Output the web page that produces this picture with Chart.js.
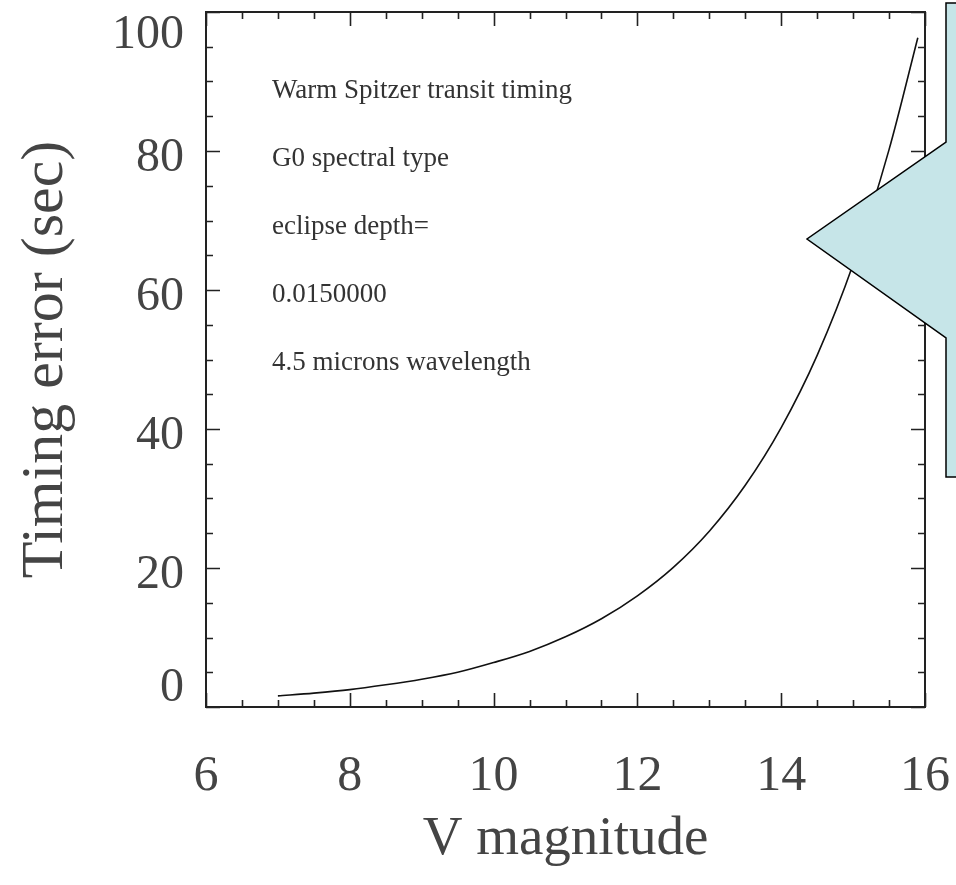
<!DOCTYPE html>
<html>
<head>
<meta charset="utf-8">
<script src="https://cdn.jsdelivr.net/npm/chart.js@4/dist/chart.umd.min.js"></script>
<style>
  html, body { margin: 0; padding: 0; background: #ffffff; }
  #wrap { width: 956px; height: 885px; position: relative; }
</style>
</head>
<body>
<div id="wrap"><canvas id="c"></canvas></div>
<script>
// ---- data ----
const vMagnitude = [7, 7.5, 8, 8.5, 9, 9.5, 10, 10.5, 11, 11.5, 12, 12.5, 13, 13.5, 14, 14.5, 15, 15.5, 15.9];
const timingError = [1.6, 2.0, 2.5, 3.2, 4.0, 5.0, 6.4, 8.0, 10.1, 12.7, 16.0, 20.1, 25.3, 31.9, 40.2, 50.6, 63.7, 80.2, 96.3];
const xTickLabels = [6, 8, 10, 12, 14, 16];
const yTickLabels = [0, 20, 40, 60, 80, 100];
const noteLines = [
  "Warm Spitzer transit timing",
  "G0 spectral type",
  "eclipse depth=",
  "0.0150000",
  "4.5 microns wavelength"
];
const xTitle = "V magnitude";
const yTitle = "Timing error (sec)";

const SERIF = "'Liberation Serif', 'Times New Roman', serif";
const points = vMagnitude.map((v, i) => ({ x: v, y: timingError[i] }));

// axis frame with inward ticks (major + minor) on all four sides
const framePlugin = {
  id: 'frame',
  afterDatasetsDraw(chart) {
    const { ctx, chartArea: a, scales } = chart;
    const xs = scales.x, ys = scales.y;
    ctx.save();
    ctx.strokeStyle = '#222';
    ctx.lineWidth = 2;
    ctx.strokeRect(a.left, a.top, a.right - a.left, a.bottom - a.top);
    ctx.lineWidth = 1.6;
    const majL = 14, minL = 7;
    for (let k = 0; k <= 20; k++) {
      const v = xs.min + k * 0.5;
      const px = Math.round(xs.getPixelForValue(v)) + 0.5;
      const len = xTickLabels.includes(v) ? majL : minL;
      ctx.beginPath();
      ctx.moveTo(px, a.bottom); ctx.lineTo(px, a.bottom - len);
      ctx.moveTo(px, a.top); ctx.lineTo(px, a.top + len);
      ctx.stroke();
    }
    for (let k = 0; k <= 20; k++) {
      const v = ys.min + k * 5;
      const py = Math.round(ys.getPixelForValue(v)) + 0.5;
      const len = yTickLabels.includes(v) ? majL : minL;
      ctx.beginPath();
      ctx.moveTo(a.left, py); ctx.lineTo(a.left + len, py);
      ctx.moveTo(a.right, py); ctx.lineTo(a.right - len, py);
      ctx.stroke();
    }
    // y tick labels, kept inside the frame height like the original
    ctx.fillStyle = '#444';
    ctx.font = "48px " + SERIF;
    ctx.textAlign = 'right';
    ctx.textBaseline = 'middle';
    yTickLabels.forEach(v => {
      let py = ys.getPixelForValue(v) + 7;
      py = Math.max(a.top + 23, Math.min(a.bottom - 19, py));
      ctx.fillText(String(v), a.left - 22, py);
    });
    ctx.restore();
  }
};

// text notes inside the plot
const notesPlugin = {
  id: 'notes',
  afterDatasetsDraw(chart) {
    const { ctx, chartArea: a } = chart;
    ctx.save();
    ctx.fillStyle = '#333';
    ctx.font = "27px " + SERIF;
    ctx.textAlign = 'left';
    ctx.textBaseline = 'middle';
    noteLines.forEach((t, i) => {
      ctx.fillText(t, a.left + 66, a.top + 79 + i * 68);
    });
    ctx.restore();
  }
};

// light-blue callout shape on the right
const calloutPlugin = {
  id: 'callout',
  afterDraw(chart) {
    const { ctx } = chart;
    ctx.save();
    ctx.beginPath();
    ctx.moveTo(946, 3);
    ctx.lineTo(962, 3);
    ctx.lineTo(962, 477);
    ctx.lineTo(946, 477);
    ctx.lineTo(946, 338);
    ctx.lineTo(807, 239);
    ctx.lineTo(946, 142);
    ctx.closePath();
    ctx.fillStyle = '#c6e5e8';
    ctx.fill();
    ctx.strokeStyle = '#000';
    ctx.lineWidth = 1.5;
    ctx.stroke();
    ctx.restore();
  }
};

new Chart(document.getElementById('c'), {
  type: 'line',
  data: {
    datasets: [{
      data: points,
      borderColor: '#111',
      borderWidth: 1.6,
      pointRadius: 0,
      fill: false,
      cubicInterpolationMode: 'monotone'
    }]
  },
  options: {
    responsive: true,
    maintainAspectRatio: false,
    animation: false,
    layout: { padding: { top: 12, right: 31, left: 0, bottom: 0 } },
    plugins: { legend: { display: false }, tooltip: { enabled: false } },
    scales: {
      x: {
        type: 'linear',
        min: 6, max: 16,
        afterFit(s) { s.height = 178; s.paddingLeft = 0; s.paddingRight = 0; },
        afterBuildTicks(s) { s.ticks = xTickLabels.map(v => ({ value: v })); },
        grid: { display: false, drawTicks: false },
        border: { display: false },
        ticks: {
          font: { family: SERIF, size: 50 },
          color: '#444',
          padding: 40,
          maxRotation: 0,
          autoSkip: false
        },
        title: {
          display: true, text: xTitle,
          font: { family: SERIF, size: 55 },
          color: '#444',
          padding: { top: 0, bottom: 12 }
        }
      },
      y: {
        type: 'linear',
        min: 0, max: 100,
        afterFit(s) { s.width = 206; s.paddingTop = 0; s.paddingBottom = 0; },
        afterBuildTicks(s) { s.ticks = yTickLabels.map(v => ({ value: v })); },
        grid: { display: false, drawTicks: false },
        border: { display: false },
        ticks: { display: false },
        title: {
          display: true, text: yTitle,
          font: { family: SERIF, size: 60 },
          color: '#444',
          padding: { top: 10, bottom: 0 }
        }
      }
    }
  },
  plugins: [framePlugin, notesPlugin, calloutPlugin]
});
</script>
</body>
</html>
